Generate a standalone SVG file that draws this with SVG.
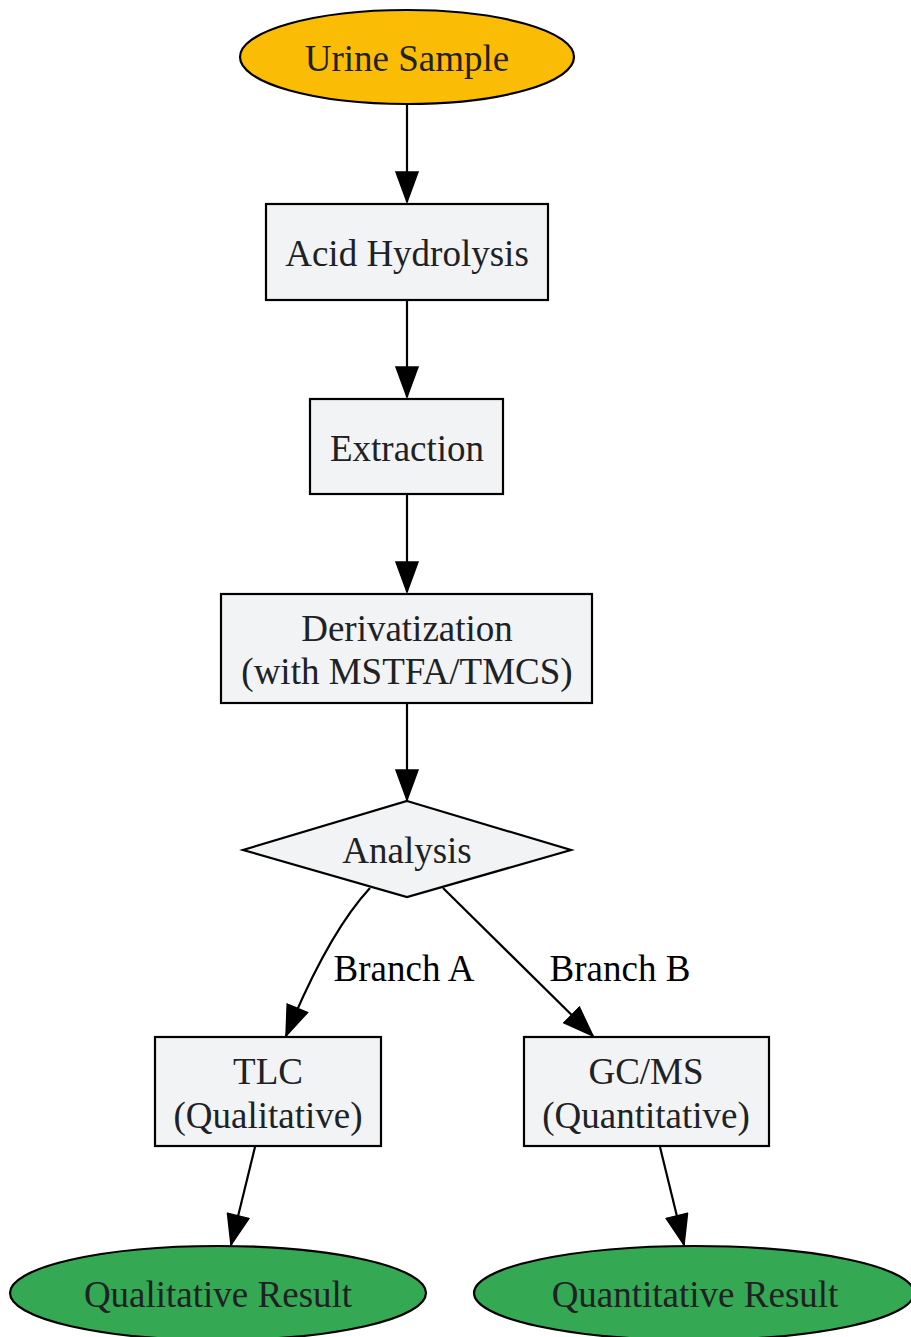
<svg xmlns="http://www.w3.org/2000/svg" width="911" height="1337" viewBox="0 0 911 1337">
<style>
.n { stroke:#000; stroke-width:2.2; }
.box { fill:#F1F3F4; }
.start { fill:#FBBC05; }
.end { fill:#34A853; }
.t { font-family:"Liberation Serif","Times New Roman",serif; font-size:37px; fill:#202124; text-anchor:middle; }
.lbl { font-family:"Liberation Serif","Times New Roman",serif; font-size:37px; fill:#000; text-anchor:middle; }
.e { fill:none; stroke:#000; stroke-width:2.2; marker-end:url(#arr); }
</style>
<defs>
<marker id="arr" markerUnits="userSpaceOnUse" markerWidth="32" markerHeight="24" viewBox="-1 -1 32 24" refX="30" refY="11" orient="auto">
<path d="M0,0 L30,11 L0,22 z" fill="#000" stroke="#000" stroke-width="1.5"/>
</marker>
</defs>
<rect width="911" height="1337" fill="#fff"/>
<g id="connectors">
<path class="e" d="M407,104 L407,202"/>
<path class="e" d="M407,300 L407,397"/>
<path class="e" d="M407,494 L407,592"/>
<path class="e" d="M407,703 L407,800"/>
<path class="e" d="M370,888 C345,915 318,958 286,1036"/>
<path class="e" d="M443,888 L593,1036"/>
<path class="e" d="M255,1147 L231,1245"/>
<path class="e" d="M660,1147 L684,1245"/>
<text class="lbl" x="404" y="981">Branch A</text>
<text class="lbl" x="620" y="981">Branch B</text>
</g>
<g id="urine">
<ellipse class="n start" cx="407" cy="57" rx="167" ry="47"/>
<text class="t" x="407" y="71">Urine Sample</text>
</g>
<g id="hydrolysis">
<rect class="n box" x="266" y="204" width="282" height="96"/>
<text class="t" x="407" y="266">Acid Hydrolysis</text>
</g>
<g id="extraction">
<rect class="n box" x="310" y="399" width="193" height="95"/>
<text class="t" x="407" y="461">Extraction</text>
</g>
<g id="derivatization">
<rect class="n box" x="221" y="594" width="371" height="109"/>
<text class="t" x="407" y="641">Derivatization</text>
<text class="t" x="407" y="684">(with MSTFA/TMCS)</text>
</g>
<g id="analysis">
<polygon class="n box" points="407,801 571,850 407,897 243,850"/>
<text class="t" x="407" y="863">Analysis</text>
</g>
<g id="tlc">
<rect class="n box" x="155" y="1037" width="226" height="109"/>
<text class="t" x="268" y="1084">TLC</text>
<text class="t" x="268" y="1128">(Qualitative)</text>
</g>
<g id="gcms">
<rect class="n box" x="524" y="1037" width="245" height="109"/>
<text class="t" x="646" y="1084">GC/MS</text>
<text class="t" x="646" y="1128">(Quantitative)</text>
</g>
<g id="qual-result">
<ellipse class="n end" cx="218" cy="1293" rx="208" ry="47"/>
<text class="t" x="218" y="1307">Qualitative Result</text>
</g>
<g id="quant-result">
<ellipse class="n end" cx="694" cy="1293" rx="220" ry="47"/>
<text class="t" x="695" y="1307">Quantitative Result</text>
</g>
</svg>
